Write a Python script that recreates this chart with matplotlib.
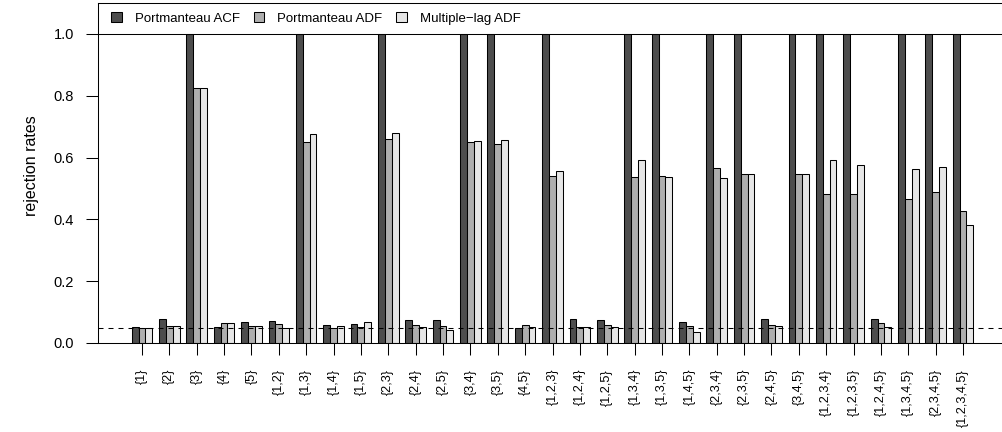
import matplotlib
matplotlib.use("Agg")
import matplotlib.pyplot as plt
from matplotlib.patches import Patch
import numpy as np

plt.rcParams['font.family'] = ['Liberation Sans', 'DejaVu Sans']
plt.rcParams['lines.scale_dashes'] = False

categories = ["{1}", "{2}", "{3}", "{4}", "{5}",
              "{1,2}", "{1,3}", "{1,4}", "{1,5}", "{2,3}", "{2,4}", "{2,5}", "{3,4}", "{3,5}", "{4,5}",
              "{1,2,3}", "{1,2,4}", "{1,2,5}", "{1,3,4}", "{1,3,5}", "{1,4,5}", "{2,3,4}", "{2,3,5}", "{2,4,5}", "{3,4,5}",
              "{1,2,3,4}", "{1,2,3,5}", "{1,2,4,5}", "{1,3,4,5}", "{2,3,4,5}", "{1,2,3,4,5}"]

portmanteau_acf = [0.053, 0.077, 1.0, 0.051, 0.067,
                   0.070, 1.0, 0.057, 0.060, 1.0, 0.074, 0.074, 1.0, 1.0, 0.050,
                   1.0, 0.078, 0.073, 1.0, 1.0, 0.068, 1.0, 1.0, 0.078, 1.0,
                   1.0, 1.0, 0.078, 1.0, 1.0, 1.0]

portmanteau_adf = [0.050, 0.056, 0.824, 0.065, 0.055,
                   0.060, 0.650, 0.049, 0.051, 0.659, 0.057, 0.054, 0.650, 0.644, 0.057,
                   0.541, 0.053, 0.059, 0.536, 0.541, 0.056, 0.566, 0.548, 0.057, 0.546,
                   0.482, 0.483, 0.065, 0.467, 0.487, 0.428]

multiple_lag_adf = [0.050, 0.056, 0.824, 0.065, 0.055,
                    0.049, 0.675, 0.055, 0.067, 0.679, 0.051, 0.042, 0.653, 0.657, 0.051,
                    0.558, 0.052, 0.051, 0.591, 0.538, 0.036, 0.535, 0.548, 0.054, 0.548,
                    0.591, 0.577, 0.052, 0.562, 0.569, 0.381]

series_names = ["Portmanteau ACF", "Portmanteau ADF", "Multiple\u2212lag ADF"]
series_colors = ["#4D4D4D", "#AEAEAE", "#E6E6E6"]
series = [portmanteau_acf, portmanteau_adf, multiple_lag_adf]

FS_LEG = 9.5
FS_X = 9.2
FS_Y = 10.5
FS_LAB = 11.5
W, H = 1002, 432
fig = plt.figure(figsize=(W / 100, H / 100), dpi=100)
ax = fig.add_axes([98 / W, (H - 343) / H, 909 / W, 340 / H])

n = len(categories)
group_start = 1 + 4 * np.arange(n)
for k, (vals, col) in enumerate(zip(series, series_colors)):
    ax.bar(group_start + k + 0.5, vals, width=1.0, color=col,
           edgecolor='black', linewidth=0.75, zorder=2)

ax.set_xlim(1 - 0.04 * 123, 124 + 0.04 * 123)
ax.set_ylim(0, 1.1)

ax.axhline(0.05, color='black', linewidth=0.75, linestyle=(0, (3.6, 3.6)), zorder=3)
ax.axhline(1.0, color='black', linewidth=0.75, zorder=3)

ax.set_xticks(group_start + 1.5)
ax.set_xticklabels(categories, rotation=90, fontsize=FS_X)
ax.set_yticks([0, 0.2, 0.4, 0.6, 0.8, 1.0])
ax.set_yticklabels(["0.0", "0.2", "0.4", "0.6", "0.8", "1.0"], fontsize=FS_Y)
ax.tick_params(axis='both', direction='out', length=8.6, width=0.75, pad=8.6)
ax.tick_params(axis='x', pad=10.0)

for side in ['left', 'top', 'bottom']:
    ax.spines[side].set_linewidth(0.75)
ax.spines['right'].set_visible(False)

ax.set_ylabel("rejection rates", fontsize=FS_LAB)
ax.yaxis.set_label_coords(-(98 - 39) / 909, (343 - 166) / 340)

handles = [Patch(facecolor=c, edgecolor='black', linewidth=0.75) for c in series_colors]
ax.legend(handles, series_names, ncol=3, loc='center left',
          bbox_to_anchor=((111 - 98) / 909, 1.05 / 1.1), frameon=False, fontsize=FS_LEG,
          handlelength=0.8, handleheight=0.7, handletextpad=1.0,
          columnspacing=1.05, borderaxespad=0, borderpad=0)

fig.savefig("out.png", dpi=100)
